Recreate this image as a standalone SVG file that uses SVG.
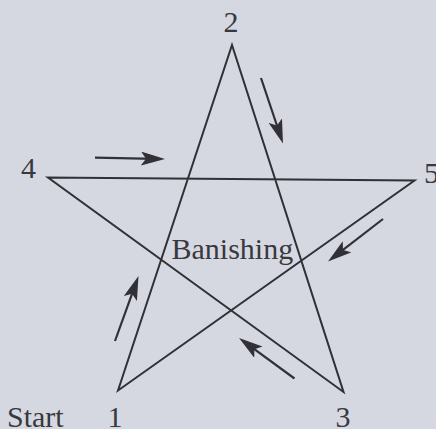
<svg xmlns="http://www.w3.org/2000/svg" width="436" height="429" viewBox="0 0 436 429">
  <style>
    .bg { fill: #d6d8e1; }
    .star { fill: none; stroke: #303036; stroke-width: 2; stroke-linejoin: miter; stroke-miterlimit: 10; }
    .arrow { fill: none; stroke: #303036; stroke-width: 2.2; marker-end: url(#head); }
    .lbl { font-family: "Liberation Serif", "Times New Roman", serif; font-size: 30px; fill: #38383f; }
  </style>
  <defs>
    <marker id="head" viewBox="0 0 24 14" markerWidth="24" markerHeight="14" markerUnits="userSpaceOnUse" refX="14" refY="7" orient="auto">
      <path d="M0,0 L24,7 L0,14 L5,7 Z" fill="#303036"/>
    </marker>
  </defs>
  <rect class="bg" x="0" y="0" width="436" height="429"/>
  <g id="star">
    <polygon class="star" points="118,390.5 232,45 343.5,392 48,177.5 414.5,180.5"/>
  </g>
  <g id="connectors">
    <line class="arrow" x1="95" y1="157.7" x2="155" y2="158.8"/>
    <line class="arrow" x1="261" y1="78" x2="279.8" y2="134"/>
    <line class="arrow" x1="383" y1="219" x2="335.9" y2="255.4"/>
    <line class="arrow" x1="115" y1="341" x2="135.1" y2="285.4"/>
    <line class="arrow" x1="294.5" y1="378.5" x2="247.1" y2="343.9"/>
  </g>
  <g id="label-2"><text class="lbl" x="231" y="32" text-anchor="middle">2</text></g>
  <g id="label-4"><text class="lbl" x="28.5" y="177.5" text-anchor="middle">4</text></g>
  <g id="label-5"><text class="lbl" x="424" y="183">5</text></g>
  <g id="label-1"><text class="lbl" x="115" y="426.5" text-anchor="middle">1</text></g>
  <g id="label-3"><text class="lbl" x="343" y="427" text-anchor="middle">3</text></g>
  <g id="label-start"><text class="lbl" x="7" y="426.5">Start</text></g>
  <g id="label-banishing"><text class="lbl" x="171.5" y="259">Banishing</text></g>
</svg>
